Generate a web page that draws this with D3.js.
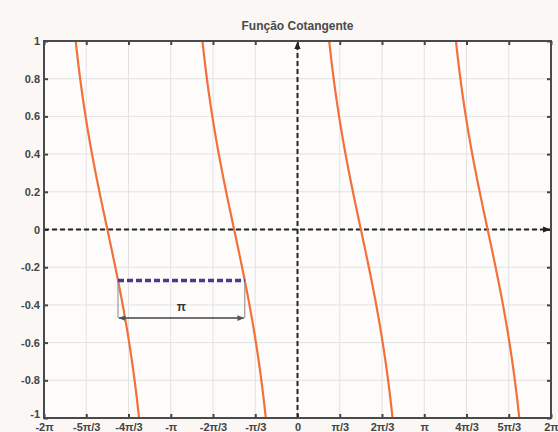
<!DOCTYPE html>
<html>
<head>
<meta charset="utf-8">
<script src="https://cdn.jsdelivr.net/npm/d3@7"></script>
<style>
  html, body { margin: 0; padding: 0; background: #faf7f4; }
  svg { display: block; }
  text { font-family: "Liberation Sans", Arial, sans-serif; font-weight: bold; }
</style>
</head>
<body>
<svg id="chart" width="558" height="432"></svg>
<script>
// Axis ticks: x in multiples of pi/3, y from -1 to 1
const xTickMultiples = [-6, -5, -4, -3, -2, -1, 0, 1, 2, 3, 4, 5, 6];
const xTickLabels = ["-2π", "-5π/3", "-4π/3", "-π", "-2π/3", "-π/3", "0", "π/3", "2π/3", "π", "4π/3", "5π/3", "2π"];
const yTicks = [-1, -0.8, -0.6, -0.4, -0.2, 0, 0.2, 0.4, 0.6, 0.8, 1];
const yTickLabels = ["-1", "-0.8", "-0.6", "-0.4", "-0.2", "0", "0.2", "0.4", "0.6", "0.8", "1"];

// One cotangent branch per period start (multiples of pi)
const branchStarts = [-2, -1, 0, 1];
const samplesPerBranch = 80;

// Period marker: horizontal level crossing two neighbouring branches, and the span arrow below it
const periodLevel = -0.27;
const periodBranch = -2;          // left branch index (in multiples of pi)
const spanArrowLevel = -0.47;
const spanLabel = "π";

const title = "Função Cotangente";

const W = 558, H = 432;
const margin = { left: 44, right: 7, top: 41, bottom: 14 };
const PI = Math.PI;

const svg = d3.select("#chart");
const x = d3.scaleLinear().domain([-2 * PI, 2 * PI]).range([margin.left, W - margin.right]);
const y = d3.scaleLinear().domain([-1, 1]).range([H - margin.bottom, margin.top]);
const x0 = x.range()[0], x1 = x.range()[1], y0 = y.range()[1], y1 = y.range()[0];

const defs = svg.append("defs");
defs.append("clipPath").attr("id", "plotClip")
  .append("rect").attr("x", x0).attr("y", y0).attr("width", x1 - x0).attr("height", y1 - y0);
function marker(id, color, size) {
  defs.append("marker").attr("id", id)
    .attr("viewBox", "0 0 10 10").attr("refX", 9).attr("refY", 5)
    .attr("markerWidth", size).attr("markerHeight", size)
    .attr("orient", "auto-start-reverse").attr("markerUnits", "userSpaceOnUse")
    .append("path").attr("d", "M0,1 L10,5 L0,9 Z").attr("fill", color);
}
marker("arrBlack", "#222", 8);
marker("arrGray", "#555", 7);

// Plot background
svg.append("rect").attr("x", x0).attr("y", y0).attr("width", x1 - x0).attr("height", y1 - y0)
  .attr("fill", "#fdfcfb");

// Grid
const xTickVals = xTickMultiples.map(m => m * PI / 3);
const grid = svg.append("g").attr("stroke", "#e2e2e2").attr("stroke-width", 1);
grid.selectAll(".gx").data(xTickVals.slice(1, -1)).join("line")
  .attr("x1", d => x(d)).attr("x2", d => x(d)).attr("y1", y0).attr("y2", y1);
grid.selectAll(".gy").data(yTicks.slice(1, -1)).join("line")
  .attr("y1", d => y(d)).attr("y2", d => y(d)).attr("x1", x0).attr("x2", x1);

// Axes (bottom/left with labels, top/right ticks only), inward ticks
const fmtX = (d, i) => xTickLabels[i];
const fmtY = (d, i) => yTickLabels[i];
const axisStyle = g => {
  g.select(".domain").remove();
  g.selectAll(".tick line").attr("stroke", "#444").attr("stroke-width", 2);
  g.selectAll(".tick text").attr("fill", "#444").style("font-size", "11px")
    .style("font-family", "'Liberation Sans', Arial, sans-serif").style("font-weight", "bold");
};
svg.append("g").attr("transform", `translate(0,${y1})`)
  .call(d3.axisBottom(x).tickValues(xTickVals).tickFormat(fmtX).tickSizeInner(-4).tickPadding(5))
  .call(axisStyle);
svg.append("g").attr("transform", `translate(0,${y0})`)
  .call(d3.axisTop(x).tickValues(xTickVals).tickFormat("").tickSizeInner(-4))
  .call(axisStyle);
const leftAxis = svg.append("g").attr("transform", `translate(${x0},0)`)
  .call(d3.axisLeft(y).tickValues(yTicks).tickFormat(fmtY).tickSizeInner(-4).tickPadding(4))
  .call(axisStyle);
// lift the bottom "-1" label so it clears the "-2π" label below it
leftAxis.selectAll(".tick").filter(d => d === -1).select("text").attr("dy", "-0.05em");
svg.append("g").attr("transform", `translate(${x1},0)`)
  .call(d3.axisRight(y).tickValues(yTicks).tickFormat("").tickSizeInner(-4))
  .call(axisStyle);

// Dashed coordinate axes through the origin
svg.append("line").attr("x1", x0).attr("x2", x1 - 1).attr("y1", y(0)).attr("y2", y(0))
  .attr("stroke", "#222").attr("stroke-width", 2).attr("stroke-dasharray", "5,3")
  .attr("marker-end", "url(#arrBlack)");
svg.append("line").attr("x1", x(0)).attr("x2", x(0)).attr("y1", y1).attr("y2", y0 + 1)
  .attr("stroke", "#222").attr("stroke-width", 2).attr("stroke-dasharray", "5,3")
  .attr("marker-end", "url(#arrBlack)");

// Cotangent branches, kept inside the visible range |cot| <= 1
const cot = t => Math.cos(t) / Math.sin(t);
const line = d3.line().x(d => x(d[0])).y(d => y(d[1]));
const branches = branchStarts.map(k => {
  const a = k * PI + PI / 4 - 0.02, b = k * PI + 3 * PI / 4 + 0.02;
  return d3.range(samplesPerBranch + 1).map(i => {
    const t = a + (b - a) * i / samplesPerBranch;
    return [t, cot(t)];
  });
});
svg.append("g").attr("clip-path", "url(#plotClip)")
  .selectAll("path").data(branches).join("path")
  .attr("d", line).attr("fill", "none")
  .attr("stroke", "#f2703a").attr("stroke-width", 2.2);

// Period marker
const xa = periodBranch * PI + Math.atan2(1, periodLevel);   // cot(xa) = periodLevel
const xb = xa + PI;
svg.append("g").attr("stroke", "#9a9a9a").attr("stroke-width", 1.2)
  .selectAll("line").data([xa, xb]).join("line")
  .attr("x1", d => x(d)).attr("x2", d => x(d))
  .attr("y1", y(periodLevel)).attr("y2", y(spanArrowLevel));
svg.append("line").attr("x1", x(xa)).attr("x2", x(xb))
  .attr("y1", y(periodLevel)).attr("y2", y(periodLevel))
  .attr("stroke", "#4a3a8a").attr("stroke-width", 3.5).attr("stroke-dasharray", "6,3");
svg.append("line").attr("x1", x(xa) + 1).attr("x2", x(xb) - 1)
  .attr("y1", y(spanArrowLevel)).attr("y2", y(spanArrowLevel))
  .attr("stroke", "#444").attr("stroke-width", 1.5)
  .attr("marker-start", "url(#arrGray)").attr("marker-end", "url(#arrGray)");
svg.append("text").attr("x", x((xa + xb) / 2)).attr("y", y(spanArrowLevel) - 7)
  .attr("text-anchor", "middle").attr("fill", "#333")
  .style("font-size", "12px")
  .text(spanLabel);

// Frame
svg.append("rect").attr("x", x0).attr("y", y0).attr("width", x1 - x0).attr("height", y1 - y0)
  .attr("fill", "none").attr("stroke", "#4a4a4a").attr("stroke-width", 2);

// Title
svg.append("text").attr("x", (x0 + x1) / 2).attr("y", 30).attr("text-anchor", "middle")
  .attr("fill", "#4a4a4a").style("font-size", "12px").text(title);
</script>
</body>
</html>
